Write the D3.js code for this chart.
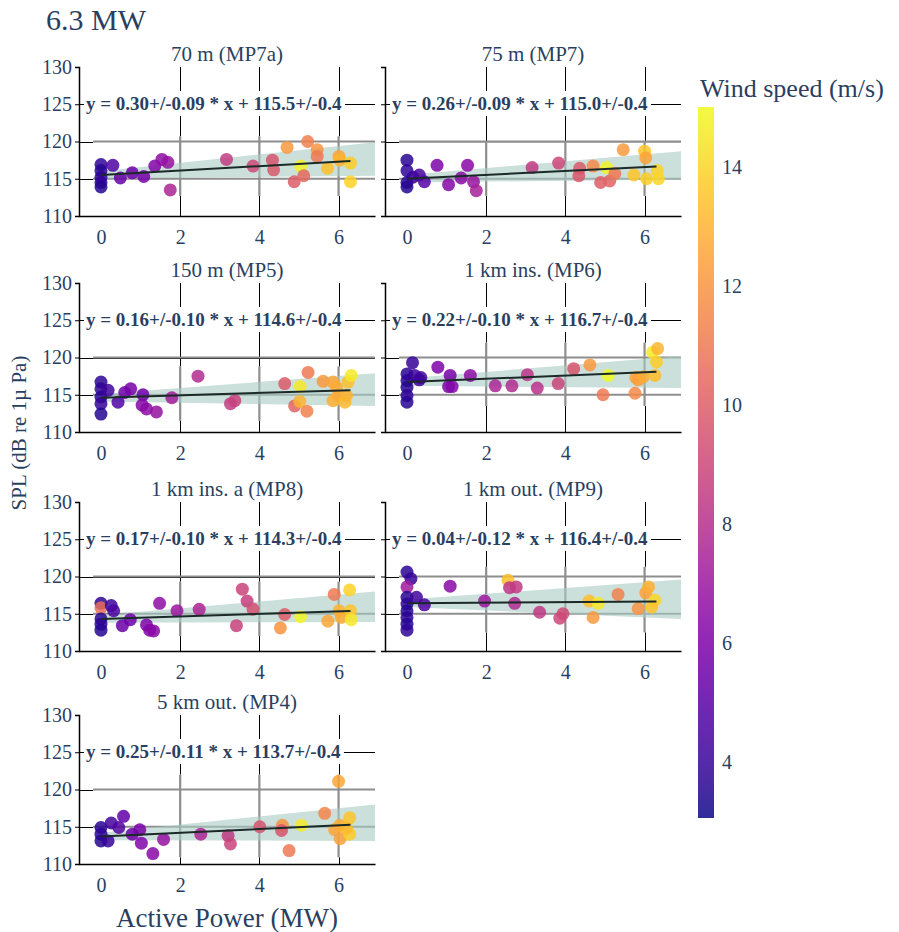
<!DOCTYPE html>
<html>
<head>
<meta charset="utf-8">
<script src="https://cdn.jsdelivr.net/npm/d3@7"></script>
<style>
  body { margin: 0; background: #fff; }
  svg text { font-family: "Times New Roman", "Liberation Serif", "DejaVu Serif", "Noto Serif", Times, serif; fill: #2a3f5f; }
</style>
</head>
<body>
<div id="chart"></div>
<script>
const W = 899, H = 932;
const FONT = '"Times New Roman", "Liberation Serif", "DejaVu Serif", Times, serif';

// panel text
const titles = ["70 m (MP7a)", "75 m (MP7)", "150 m (MP5)", "1 km ins. (MP6)",
  "1 km ins. a (MP8)", "1 km out. (MP9)", "5 km out. (MP4)"];
const slopes = [0.30, 0.26, 0.16, 0.22, 0.17, 0.04, 0.25];
const slopeErr = [0.09, 0.09, 0.10, 0.10, 0.10, 0.12, 0.11];
const intercepts = [115.5, 115.0, 114.6, 116.7, 114.3, 116.4, 113.7];
const interceptErr = [0.4, 0.4, 0.4, 0.4, 0.4, 0.4, 0.4];

// confidence band, read at x = 0 and at the right edge
const bandLeftLo = [115.0, 114.5, 114.1, 116.2, 113.8, 115.9, 113.2];
const bandLeftHi = [116.0, 115.5, 115.1, 117.2, 114.8, 116.9, 114.2];
const bandRightLo = [115.4, 114.9, 113.5, 115.9, 113.9, 114.3, 113.1];
const bandRightHi = [119.9, 118.7, 117.9, 120.2, 118.0, 119.6, 118.0];

// vertical extent of the grey inset grid
const insetHi = [120.7, 119.9, 118.8, 122.0, 119.3, 121.3, 122.0];
const insetLo = [112.7, 112.7, 111.5, 113.5, 112.0, 112.5, 110.9];

// points: [active power MW, SPL dB, wind speed m/s]
const mp7a = [[0,116.9,3.8],[0,116.1,3.6],[0,115.2,3.7],[0,114.5,3.9],[0,113.9,3.5],[0.30,116.8,4.6],[0.49,115.1,5.3],
  [0.79,115.8,5.5],[1.08,115.3,5.8],[1.36,116.7,6.2],[1.54,117.6,6.6],[1.69,117.2,6.8],[1.75,113.5,7.6],[3.17,117.6,8.6],
  [3.84,116.7,9.2],[4.33,117.5,9.6],[4.36,116.2,9.8],[4.70,119.2,12.2],[4.88,114.6,9.9],[5.04,116.7,14.8],[5.12,115.4,10.4],
  [5.22,120.0,11.3],[5.46,118.9,12.0],[5.46,118.0,11.0],[5.72,116.4,13.4],[6.01,118.0,12.6],[6.03,117.5,13.0],
  [6.30,117.1,13.8],[6.30,114.6,13.9]];
const mp7 = [[0,117.5,3.6],[0,116.1,3.8],[0,114.5,3.7],[0,113.9,3.5],[0.15,115.2,4.0],[0.31,115.5,4.4],[0.44,114.6,4.8],
  [0.76,116.8,6.0],[1.05,114.2,6.3],[1.37,115.1,6.5],[1.53,116.8,6.4],[1.68,114.6,6.9],[1.75,113.4,7.4],[3.16,116.5,8.5],
  [3.83,117.1,9.0],[4.36,116.4,9.8],[4.34,115.4,9.7],[4.70,116.7,11.6],[5.04,116.5,14.9],[4.89,114.5,10.0],[5.12,114.7,10.2],
  [5.25,115.7,11.0],[5.46,118.9,12.2],[5.73,115.5,13.6],[6.0,118.7,13.6],[6.03,117.8,12.5],[6.05,115.0,13.8],
  [6.32,116.1,13.9],[6.35,115.0,14.0]];
const mp5 = [[0,116.7,3.7],[0,115.8,3.8],[0,114.7,3.6],[0,113.8,3.9],[0,112.4,3.5],[0.18,115.6,4.2],[0.43,114.0,4.7],
  [0.6,115.3,5.6],[0.75,115.8,5.9],[1.06,115.0,5.6],[1.04,113.6,6.2],[1.15,113.1,6.5],[1.4,112.7,6.8],[1.79,114.6,7.3],
  [2.45,117.5,7.9],[3.27,113.8,8.6],[3.38,114.2,8.8],[4.64,116.5,9.8],[4.89,113.5,10.2],[5.03,116.1,14.6],[5.02,114.1,13.0],
  [5.23,118.0,11.0],[5.2,112.8,11.3],[5.61,116.8,12.2],[5.86,116.7,12.6],[5.95,116.0,12.8],[5.86,114.2,12.9],
  [5.99,114.9,12.7],[6.16,114.0,13.2],[6.2,114.9,13.0],[6.24,116.7,13.4],[6.32,117.6,14.6]];
const mp6 = [[0.14,119.3,3.9],[0,117.8,3.6],[0,116.9,3.7],[0,116.0,3.5],[0,114.9,3.8],[0,114.0,3.6],[0.19,117.6,4.0],
  [0.35,117.3,4.3],[0.31,117.0,4.1],[0.78,118.7,6.0],[1.09,117.6,5.8],[1.05,116.1,6.0],[1.14,116.1,6.2],[1.6,117.6,6.6],
  [2.23,116.2,7.6],[2.65,116.2,7.9],[3.04,117.7,8.3],[3.29,115.9,8.1],[3.82,116.5,8.9],[4.21,118.5,9.6],[4.62,119.0,12.2],
  [5.08,117.6,15.0],[4.95,115.0,11.0],[5.76,115.2,11.6],[5.78,117.3,12.5],[5.84,117.0,12.3],[5.97,117.4,12.8],
  [6.2,120.7,14.6],[6.33,121.2,13.0],[6.3,119.4,13.8],[6.26,117.6,13.3]];
const mp8 = [[0,116.4,3.7],[0,115.8,10.6],[0,114.3,3.6],[0,113.6,3.8],[0,112.8,3.5],[0.26,116.1,4.2],[0.32,115.4,4.5],
  [0.54,113.4,5.4],[0.74,114.2,5.6],[1.15,113.5,6.0],[1.23,112.8,6.2],[1.33,112.7,6.4],[1.48,116.4,6.6],[1.92,115.4,7.0],
  [2.48,115.6,7.6],[3.42,113.4,8.8],[3.57,118.3,8.9],[3.69,116.7,8.7],[3.84,115.6,9.4],[4.64,114.9,9.9],[4.53,113.1,12.0],
  [5.04,114.6,14.9],[5.73,114.0,12.6],[5.89,117.6,11.0],[6.01,115.4,13.0],[6.07,114.5,12.8],[6.28,118.2,13.9],
  [6.3,115.4,13.6],[6.32,114.2,14.5]];
const mp9 = [[0,120.6,3.7],[0.1,119.7,3.9],[0,118.6,7.2],[0,117.2,3.6],[0,116.3,3.8],[0,115.4,3.5],[0,114.5,3.7],
  [0,113.6,3.6],[0,112.8,3.8],[0.24,117.2,4.3],[0.44,116.2,4.6],[1.09,118.7,6.4],[1.96,116.7,7.1],[2.55,119.5,13.4],
  [2.59,118.5,8.3],[2.76,118.6,8.5],[2.72,116.4,7.8],[3.35,115.2,8.4],[3.86,114.4,9.0],[3.94,115.0,9.2],[4.6,116.7,13.4],
  [4.83,116.4,14.6],[4.7,114.5,12.2],[5.33,117.6,11.4],[5.84,115.7,12.0],[6.03,117.8,12.4],[6.1,118.6,12.9],
  [6.26,116.8,14.0],[6.18,115.9,13.5]];
const mp4 = [[0,114.9,3.6],[0,114.0,3.8],[0,113.1,3.5],[0.18,113.1,4.0],[0.26,115.5,4.3],[0.45,114.9,4.7],[0.57,116.4,5.2],
  [0.79,114.0,5.6],[0.98,114.6,5.9],[1.02,112.8,6.1],[1.31,111.4,6.4],[1.58,113.3,6.8],[2.52,114.0,7.6],[3.21,113.8,8.5],
  [3.27,112.7,8.9],[4.01,115.0,9.5],[4.58,115.2,12.0],[4.56,114.5,9.6],[4.75,111.8,11.0],[5.06,115.2,14.6],
  [5.65,116.8,11.5],[6.0,121.1,12.6],[5.9,114.6,12.6],[6.03,115.2,12.8],[6.04,113.4,12.4],[6.28,116.2,13.6],
  [6.28,114.0,13.8],[6.2,114.8,13.2]];
const panelData = [mp7a, mp7, mp5, mp6, mp8, mp9, mp4];

const xTicks = [0, 2, 4, 6];
const yTicks = [110, 115, 120, 125, 130];
const windTicks = [4, 6, 8, 10, 12, 14];
const windDomain = [3.06, 15.0];
const fitEnd = 6.3;

// layout
const colX = [79, 385];
const rowY = [67, 283, 502, 715];
const pw = 296, ph = 149;

const svg = d3.select("#chart").append("svg").attr("width", W).attr("height", H)
  .style("font-family", FONT);

const color = d3.scaleSequential(d3.interpolatePlasma).domain(windDomain);

svg.append("text").attr("x", 46).attr("y", 30).attr("font-size", 30).text("6.3 MW");

const x = d3.scaleLinear().domain([-0.555, 6.92]).range([0, pw]);
const y = d3.scaleLinear().domain([110, 130]).range([ph, 0]);
const px = v => Math.round(v) + 0.5;

panelData.forEach(function (pts, i) {
  const col = i % 2, row = Math.floor(i / 2);
  const g = svg.append("g").attr("transform", `translate(${colX[col]},${rowY[row]})`);

  // title
  g.append("text").attr("x", pw / 2).attr("y", -6).attr("text-anchor", "middle")
    .attr("font-size", 21).text(titles[i]);

  // black grid
  g.selectAll(".vg").data([2, 4, 6]).enter().append("line")
    .attr("x1", d => px(x(d))).attr("x2", d => px(x(d))).attr("y1", 0).attr("y2", ph)
    .attr("stroke", "#000").attr("stroke-width", 1);
  g.selectAll(".hg").data([115, 120, 125]).enter().append("line")
    .attr("x1", 0).attr("x2", pw).attr("y1", d => px(y(d))).attr("y2", d => px(y(d)))
    .attr("stroke", "#000").attr("stroke-width", 1);

  // inset with grey grid
  const ix0 = x(-0.2);
  g.append("rect").attr("x", ix0).attr("y", y(insetHi[i]))
    .attr("width", pw - ix0).attr("height", y(insetLo[i]) - y(insetHi[i])).attr("fill", "#fff");
  g.selectAll(".vgi").data([2, 4, 6]).enter().append("line")
    .attr("x1", d => x(d)).attr("x2", d => x(d))
    .attr("y1", y(insetHi[i])).attr("y2", y(insetLo[i]))
    .attr("stroke", "#8e8e8e").attr("stroke-width", 2.2);
  g.selectAll(".hgi").data([115, 120]).enter().append("line")
    .attr("x1", ix0).attr("x2", pw).attr("y1", d => y(d)).attr("y2", d => y(d))
    .attr("stroke", "#8e8e8e").attr("stroke-width", 2.2);

  // band
  const xr = x.domain()[1];
  const band = [[0, bandLeftLo[i], bandLeftHi[i]], [xr, bandRightLo[i], bandRightHi[i]]];
  g.append("path").datum(band)
    .attr("d", d3.area().x(d => x(d[0])).y0(d => y(d[1])).y1(d => y(d[2])))
    .attr("fill", "#a9c9c3").attr("opacity", 0.6);

  // points
  g.selectAll("circle").data(pts).enter().append("circle")
    .attr("cx", d => x(d[0])).attr("cy", d => y(d[1])).attr("r", 6.5)
    .attr("fill", d => color(d[2])).attr("opacity", 0.85);

  // fit line
  const fit = [0, fitEnd].map(v => [v, intercepts[i] + slopes[i] * v]);
  g.append("path").datum(fit)
    .attr("d", d3.line().x(d => x(d[0])).y(d => y(d[1])))
    .attr("stroke", "#1b2a28").attr("stroke-width", 2).attr("fill", "none");

  // equation
  const eq = `y = ${slopes[i].toFixed(2)}+/-${slopeErr[i].toFixed(2)} * x + ${intercepts[i].toFixed(1)}+/-${interceptErr[i].toFixed(1)}`;
  const bg = g.append("rect").attr("fill", "#fff");
  const t = g.append("text").attr("x", 7).attr("y", y(125) - 1).attr("dy", "0.35em")
    .attr("font-size", 19).attr("font-weight", "bold").text(eq);
  const bb = t.node().getBBox();
  bg.attr("x", 5).attr("y", bb.y - 2).attr("width", bb.width + 5).attr("height", bb.height + 4);

  // axes
  const ya = g.append("g").attr("font-family", FONT)
    .call(d3.axisLeft(y).tickValues(yTicks).tickSize(4).tickPadding(3));
  ya.select(".domain").attr("stroke", "#000").attr("stroke-width", 1.5);
  ya.selectAll(".tick line").attr("stroke", "#000");
  ya.selectAll(".tick text").attr("font-size", 20).attr("fill", "#2a3f5f")
    .style("display", col === 0 ? null : "none");

  const xa = g.append("g").attr("transform", `translate(0,${ph})`).attr("font-family", FONT)
    .call(d3.axisBottom(x).tickValues(xTicks).tickSize(0).tickPadding(14).tickSizeOuter(0));
  xa.select(".domain").attr("stroke", "#000").attr("stroke-width", 1.5);
  xa.selectAll(".tick text").attr("font-size", 20).attr("fill", "#2a3f5f");
});

// axis titles
svg.append("text").attr("transform", "translate(26,433) rotate(-90)")
  .attr("text-anchor", "middle").attr("font-size", 21).text("SPL (dB re 1µ Pa)");
svg.append("text").attr("x", 227).attr("y", 927).attr("text-anchor", "middle")
  .attr("font-size", 27).text("Active Power (MW)");

// colorbar
const cbX = 698, cbW = 16, cbTop = 107, cbBot = 818;
const cy = d3.scaleLinear().domain(windDomain).range([cbBot, cbTop]);
const grad = svg.append("defs").append("linearGradient").attr("id", "plasma")
  .attr("x1", 0).attr("y1", 1).attr("x2", 0).attr("y2", 0);
d3.range(0, 1.0001, 0.05).forEach(function (s) {
  grad.append("stop").attr("offset", s).attr("stop-color", d3.interpolatePlasma(s));
});
svg.append("rect").attr("x", cbX).attr("y", cbTop).attr("width", cbW).attr("height", cbBot - cbTop)
  .attr("fill", "url(#plasma)").attr("opacity", 0.85);
svg.selectAll(".cbt").data(windTicks).enter().append("text")
  .attr("x", cbX + cbW + 8).attr("y", d => cy(d)).attr("dy", "0.35em")
  .attr("font-size", 20).text(d => d);
svg.append("text").attr("x", 700).attr("y", 97).attr("font-size", 26).text("Wind speed (m/s)");
</script>
</body>
</html>
